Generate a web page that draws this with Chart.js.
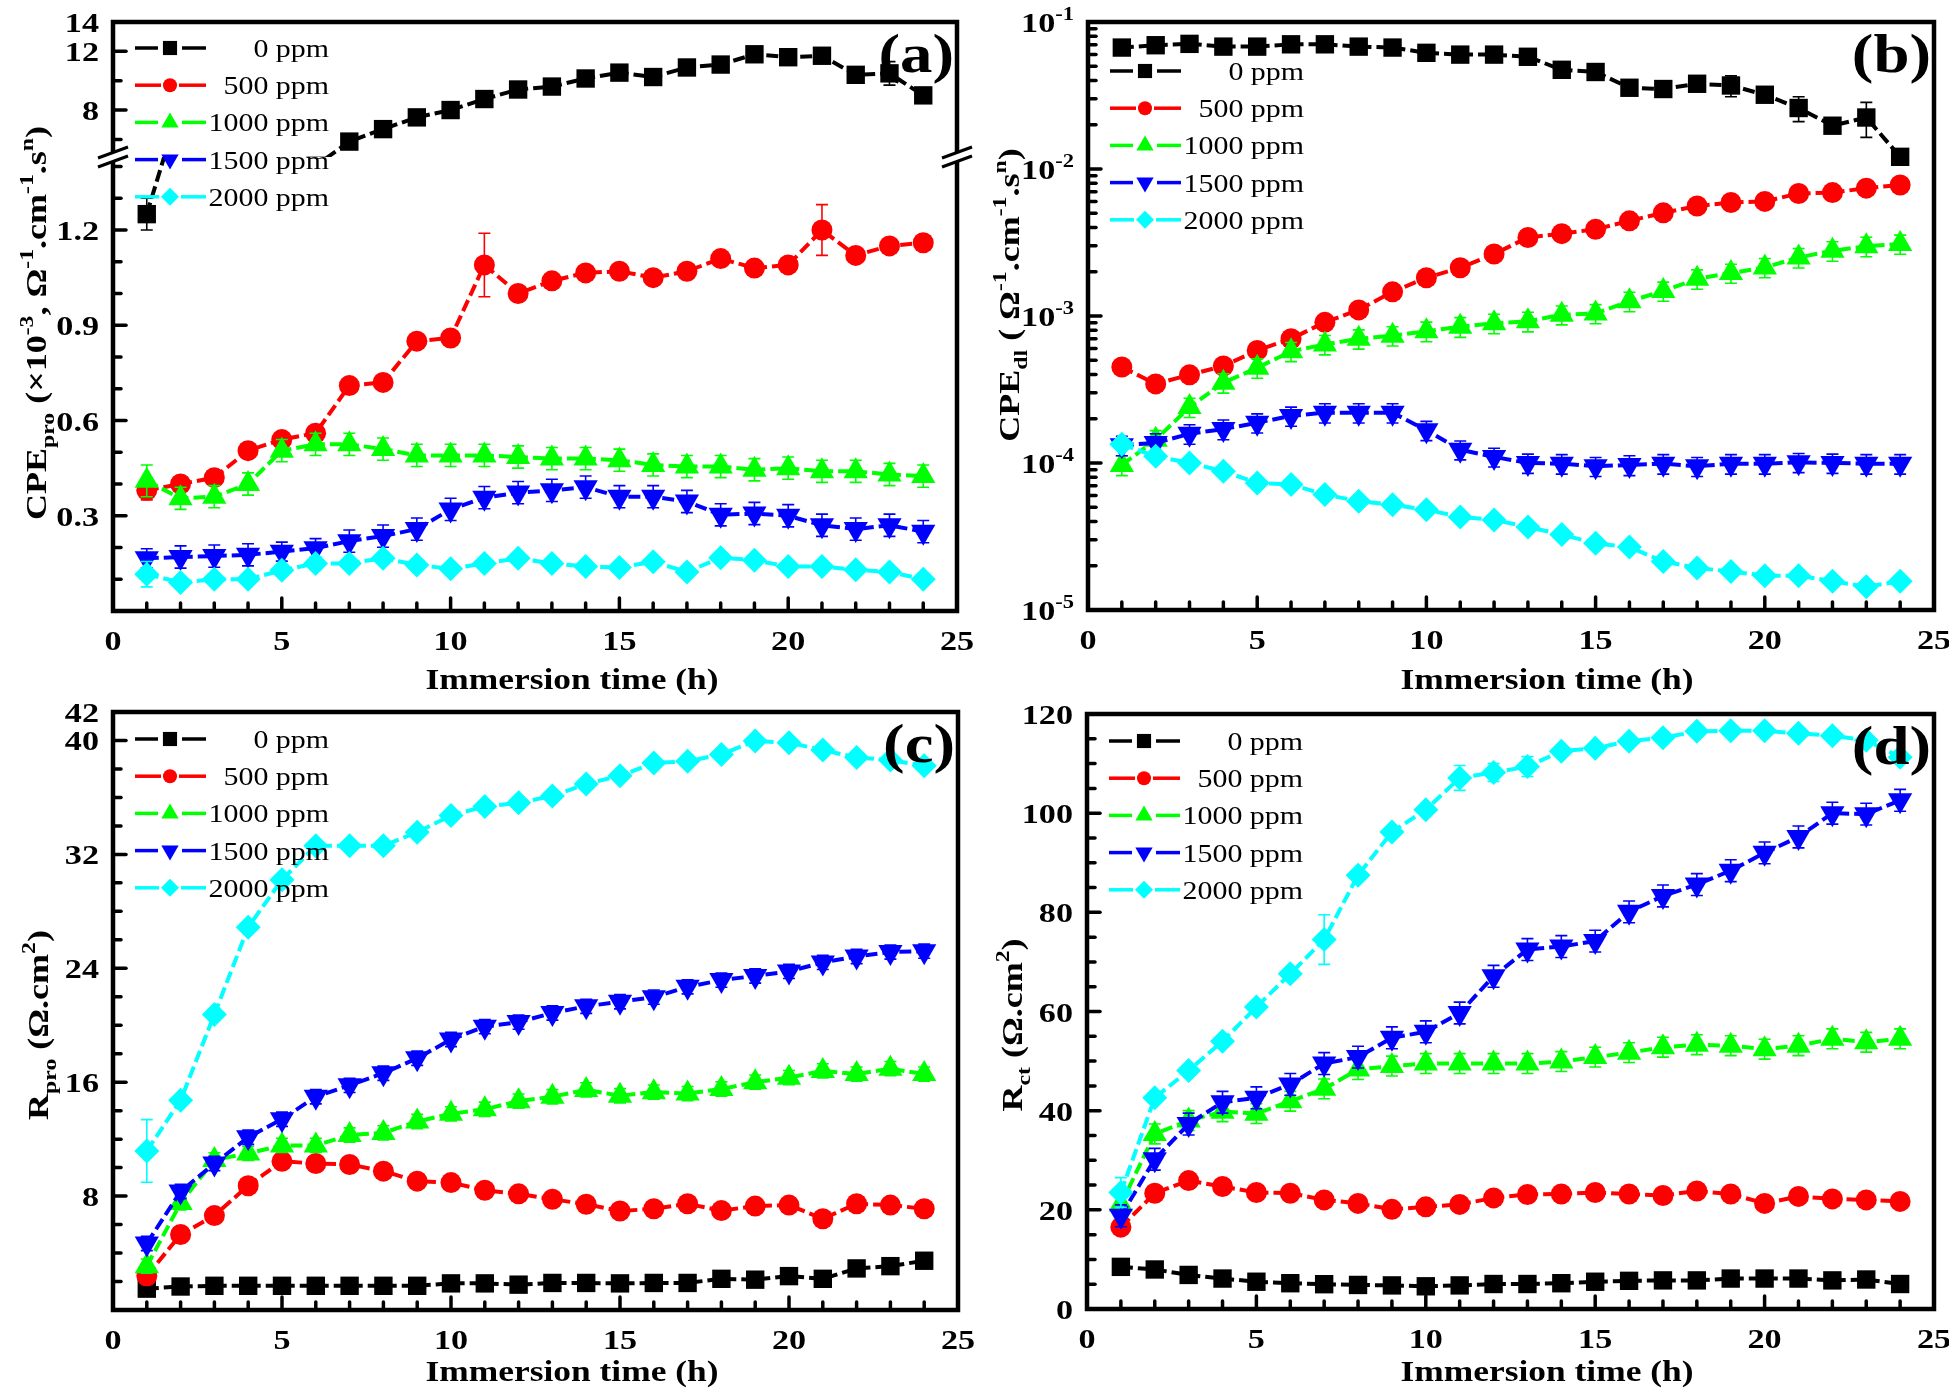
<!DOCTYPE html>
<html>
<head>
<meta charset="utf-8">
<title>CPE and R vs immersion time</title>
<script src="https://cdn.jsdelivr.net/npm/chart.js@4.4.1/dist/chart.umd.min.js"></script>
<style>
  html, body { margin: 0; padding: 0; background: #fff; }
  .pane { position: absolute; }
</style>
</head>
<body>
<div class="pane" style="left:0;top:0;width:975px;height:695px"><canvas id="pa"></canvas></div>
<div class="pane" style="left:975px;top:0;width:974px;height:695px"><canvas id="pb"></canvas></div>
<div class="pane" style="left:0;top:695px;width:975px;height:696px"><canvas id="pc"></canvas></div>
<div class="pane" style="left:975px;top:695px;width:974px;height:696px"><canvas id="pd"></canvas></div>
<script>
// immersion time (h)
const hours = [1,2,3,4,5,6,7,8,9,10,11,12,13,14,15,16,17,18,19,20,21,22,23,24];
const labels = ['0 ppm', '500 ppm', '1000 ppm', '1500 ppm', '2000 ppm'];

// (a) CPE_pro (x10^-3)
const cpePro0    = [1.25,1.6,2.3,3.0,3.6,4.2,5.85,6.7,7.5,8.0,8.75,9.4,9.6,10.15,10.55,10.25,10.9,11.1,11.8,11.6,11.7,10.4,10.5,9.0];
const cpePro500  = [0.38,0.40,0.42,0.505,0.54,0.56,0.71,0.72,0.85,0.86,1.09,1.00,1.04,1.065,1.07,1.05,1.07,1.11,1.08,1.09,1.20,1.12,1.15,1.16];
const cpePro1000 = [0.41,0.355,0.36,0.40,0.505,0.525,0.525,0.51,0.49,0.49,0.49,0.485,0.48,0.48,0.475,0.46,0.455,0.455,0.445,0.45,0.44,0.44,0.43,0.425];
const cpePro1500 = [0.166,0.17,0.173,0.177,0.187,0.198,0.22,0.236,0.258,0.32,0.357,0.373,0.38,0.39,0.36,0.36,0.345,0.303,0.307,0.30,0.27,0.258,0.27,0.25];
const cpePro2000 = [0.116,0.09,0.10,0.10,0.128,0.15,0.15,0.166,0.145,0.133,0.15,0.166,0.15,0.14,0.137,0.155,0.123,0.168,0.16,0.14,0.14,0.13,0.123,0.10];
const errPro0    = [0.05,0,0,0,0,0,0.2,0.2,0.2,0.2,0.2,0.2,0.2,0.2,0.2,0.2,0.2,0.2,0.2,0.2,0.45,0.2,0.8,0.2];
const errPro500  = [0.03,0.02,0.02,0.02,0.02,0.02,0.02,0.02,0.02,0.02,0.10,0.02,0.02,0.02,0.02,0.02,0.02,0.02,0.02,0.02,0.08,0.02,0.02,0.02];
const errPro1000 = [0.05,0.035,0.035,0.035,0.035,0.035,0.035,0.035,0.035,0.035,0.035,0.035,0.035,0.035,0.035,0.035,0.035,0.035,0.035,0.035,0.035,0.035,0.035,0.035];
const errPro1500 = [0.03,0.035,0.035,0.035,0.03,0.03,0.035,0.035,0.035,0.035,0.035,0.035,0.035,0.035,0.035,0.035,0.035,0.035,0.035,0.035,0.035,0.035,0.035,0.035];
const errPro2000 = [0.04,0.01,0.01,0.01,0.01,0.02,0.01,0.01,0.01,0.01,0.01,0.01,0.01,0.01,0.01,0.01,0.01,0.01,0.01,0.01,0.01,0.01,0.01,0.01];

// (b) CPE_dl
const cpeDl0    = [0.067,0.0695,0.071,0.068,0.068,0.0705,0.0705,0.068,0.067,0.0617,0.060,0.060,0.058,0.0473,0.0457,0.0357,0.035,0.038,0.037,0.032,0.026,0.0197,0.0224,0.0121];
const cpeDl500  = [4.5e-4,3.45e-4,3.98e-4,4.57e-4,5.83e-4,7.0e-4,9.06e-4,1.10e-3,1.46e-3,1.82e-3,2.13e-3,2.64e-3,3.42e-3,3.63e-3,3.89e-3,4.44e-3,5.03e-3,5.6e-3,5.92e-3,6.02e-3,6.81e-3,6.91e-3,7.41e-3,7.78e-3];
const cpeDl1000 = [9.7e-5,1.44e-4,2.4e-4,3.52e-4,4.44e-4,5.75e-4,6.4e-4,7.0e-4,7.35e-4,7.88e-4,8.45e-4,8.93e-4,9.2e-4,1.02e-3,1.04e-3,1.26e-3,1.48e-3,1.79e-3,1.96e-3,2.14e-3,2.5e-3,2.78e-3,2.98e-3,3.09e-3];
const cpeDl1500 = [1.32e-4,1.37e-4,1.58e-4,1.70e-4,1.88e-4,2.09e-4,2.2e-4,2.2e-4,2.2e-4,1.67e-4,1.23e-4,1.1e-4,1.0e-4,9.9e-5,9.5e-5,9.7e-5,9.9e-5,9.5e-5,9.9e-5,9.9e-5,1.01e-4,1.0e-4,9.9e-5,9.9e-5];
const cpeDl2000 = [1.34e-4,1.11e-4,1.0e-4,8.8e-5,7.3e-5,7.15e-5,6.1e-5,5.5e-5,5.2e-5,4.8e-5,4.3e-5,4.1e-5,3.67e-5,3.26e-5,2.84e-5,2.68e-5,2.14e-5,1.93e-5,1.83e-5,1.71e-5,1.71e-5,1.57e-5,1.44e-5,1.57e-5];
const errDl0    = [0.003,0.003,0.003,0.003,0.003,0.003,0.003,0.003,0.003,0.003,0.003,0.003,0.003,0.003,0.003,0.003,0.003,0.004,0.006,0.003,0.005,0.002,0.006,0.001];
const errDl1000 = [1.5e-5,2.2e-5,3.6e-5,5.3e-5,6.7e-5,8.6e-5,9.6e-5,1.05e-4,1.1e-4,1.2e-4,1.3e-4,1.35e-4,1.4e-4,1.5e-4,1.55e-4,1.9e-4,2.2e-4,2.7e-4,2.9e-4,3.2e-4,3.8e-4,4.2e-4,4.5e-4,4.6e-4];
const errDl1500 = [2e-5,2.1e-5,2.4e-5,2.6e-5,2.8e-5,3.1e-5,3.3e-5,3.3e-5,3.3e-5,2.5e-5,1.8e-5,1.6e-5,1.5e-5,1.5e-5,1.4e-5,1.5e-5,1.5e-5,1.4e-5,1.5e-5,1.5e-5,1.5e-5,1.5e-5,1.5e-5,1.5e-5];

// (c) R_pro
const rPro0    = [1.5,1.65,1.7,1.7,1.7,1.7,1.7,1.7,1.7,1.87,1.87,1.78,1.9,1.9,1.87,1.9,1.9,2.19,2.13,2.38,2.19,2.92,3.08,3.46];
const rPro500  = [2.4,5.3,6.63,8.73,10.44,10.29,10.22,9.75,9.05,8.95,8.41,8.16,7.78,7.43,6.95,7.11,7.46,6.98,7.3,7.37,6.41,7.46,7.37,7.11];
const rPro1000 = [3.08,7.52,10.54,11.0,11.56,11.56,12.29,12.44,13.24,13.78,14.1,14.67,14.98,15.46,15.05,15.3,15.2,15.52,16.0,16.32,16.79,16.57,16.95,16.57];
const rPro1500 = [4.67,8.32,10.29,12.13,13.4,14.98,15.78,16.63,17.68,19.0,19.9,20.22,20.86,21.33,21.65,21.97,22.7,23.17,23.46,23.78,24.41,24.83,25.14,25.2];
const rPro2000 = [11.17,14.73,20.76,26.89,30.22,32.6,32.6,32.6,33.56,34.73,35.37,35.62,36.1,36.95,37.52,38.41,38.54,39.02,39.97,39.84,39.33,38.8,38.63,38.22];
const errRPro0    = [0.5,0.1,0.1,0.1,0.1,0.1,0.1,0.1,0.1,0.1,0.1,0.1,0.1,0.1,0.1,0.1,0.1,0.1,0.1,0.1,0.1,0.1,0.1,0.1];
const errRPro500  = [0.6,0.25,0.25,0.25,0.25,0.25,0.25,0.25,0.25,0.25,0.25,0.25,0.25,0.25,0.25,0.25,0.25,0.25,0.25,0.25,0.5,0.25,0.25,0.25];
const errRPro1000 = [0.5,0.5,0.5,0.5,0.5,0.5,0.5,0.5,0.5,0.5,0.5,0.5,0.5,0.5,0.5,0.5,0.5,0.5,0.5,0.5,0.5,0.5,0.5,0.5];
const errRPro1500 = [0.5,0.5,0.5,0.5,0.5,0.5,0.5,0.5,0.5,0.5,0.5,0.5,0.5,0.5,0.5,0.5,0.5,0.5,0.5,0.5,0.5,0.5,0.5,0.5];
const errRPro2000 = [2.2,0.3,0.3,0.3,0.3,0.3,0.3,0.3,0.3,0.3,0.3,0.3,0.3,0.3,0.3,0.3,0.3,0.3,0.3,0.3,0.3,0.3,0.3,0.3];

// (d) R_ct
const rCt0    = [8.5,7.97,6.87,6.14,5.5,5.2,5.0,4.85,4.76,4.58,4.76,5.04,5.04,5.2,5.5,5.68,5.77,5.77,6.14,6.14,6.14,5.77,5.95,5.04];
const rCt500  = [16.5,23.35,25.9,24.7,23.5,23.35,22.0,21.3,20.1,20.6,21.1,22.4,23.1,23.2,23.5,23.2,22.9,23.8,23.2,21.3,22.7,22.2,22.0,21.7];
const rCt1000 = [21.1,35.3,38.0,39.8,39.4,41.9,44.4,48.3,49.0,49.5,49.5,49.5,49.5,49.9,50.8,51.7,52.8,53.3,53.1,52.4,53.1,54.5,53.8,54.5];
const rCt1500 = [18.8,30.2,37.3,41.7,42.6,45.3,49.5,50.8,54.7,55.9,59.7,67.1,72.5,73.1,74.2,80.1,83.3,85.6,88.4,92.0,95.2,100.0,99.8,102.6];
const rCt2000 = [23.5,42.6,48.1,54.0,60.9,67.6,74.5,87.5,96.2,100.7,107.1,108.2,109.4,112.5,113.1,114.5,115.2,116.5,116.6,116.6,116.1,115.6,114.7,111.3];
const errRCt1000 = [2,2,2,2,2,2,2,2,2,2,2,2,2,2,2,2,2,2,2,2,2,2,2,2];
const errRCt1500 = [2.2,2.2,2.2,2.2,2.2,2.2,2.2,2.2,2.2,2.2,2.2,2.2,2.2,2.2,2.2,2.2,2.2,2.2,2.2,2.2,2.2,2.2,2.2,2.2];
const errRCt2000 = [3,0.8,0.8,0.8,0.8,0.8,5,0.8,0.8,0.8,2.5,1.8,2,0.8,0.8,0.8,0.8,0.8,0.8,0.8,0.8,0.8,0.8,0.8];

// tick labels
const ticksX = [0,5,10,15,20,25];
const ticksProTop = [8,12,14];
const ticksProBot = [0.3,0.6,0.9,1.2];
const ticksDl = [1e-5,1e-4,1e-3,1e-2,1e-1];
const ticksRPro = [8,16,24,32,40,42];
const ticksRCt = [0,20,40,60,80,100,120];

// ---------- styling ----------
const FAM = '"Liberation Serif","Times New Roman",serif';
const looks = [
  {color: '#000000', style: 'rect', rot: 0, r: 13, lr: 10},
  {color: '#FF0000', style: 'circle', rot: 0, r: 10.5, lr: 7},
  {color: '#00FF00', style: 'triangle', rot: 0, r: 14, lr: 10},
  {color: '#0000FF', style: 'triangle', rot: 180, r: 14, lr: 10},
  {color: '#00FFFF', style: 'rectRot', rot: 0, r: 12.5, lr: 9}
];

function steps(a, b, st) {
  const r = [];
  for (let v = a; v <= b + 1e-9; v += st) r.push(+v.toFixed(6));
  return r;
}
const notIn = (arr) => (v) => !arr.some(m => Math.abs(m - v) < 1e-9);
const logMinor = [];
for (let e = -5; e <= -2; e++) for (let k = 2; k <= 9; k++) logMinor.push(k * Math.pow(10, e));

const panels = {
  pa: {
    pad: {top: 22, right: 18}, yw: 113, xh: 84, tag: '(a)', legendTop: 26,
    yTitle: [['CPE',0],['pro',1],[' (\u00d710',0],['-3',2],[', \u03a9',0],['-1',2],['.cm',0],['-1',2],['.s',0],['n',2],[')',0]],
    yTitlePos: [46, 323], xTitlePos: [572, 678],
    axes: [
      {id: 'y', min: 0, max: 1.43, weight: 454, labels: ticksProBot, fmt: v => [[v.toFixed(1),0]],
       minor: steps(0.1, 1.4, 0.1).filter(notIn(ticksProBot))},
      {id: 'yTop', min: 4.8, max: 14, weight: 135, labels: ticksProTop, fmt: v => [[String(v),0]], minor: [6,10]}
    ],
    brk: true,
    series: [cpePro0, cpePro500, cpePro1000, cpePro1500, cpePro2000],
    errs: [errPro0, errPro500, errPro1000, errPro1500, errPro2000]
  },
  pb: {
    pad: {top: 22, right: 15}, yw: 113, xh: 85, tag: '(b)', legendTop: 49,
    yTitle: [['CPE',0],['dl',1],[' ( \u03a9',0],['-1',2],['.cm',0],['-1',2],['.s',0],['n',2],[')',0]],
    yTitlePos: [44, 295], xTitlePos: [572, 678],
    axes: [
      {id: 'y', log: true, min: 1e-5, max: 1e-1, labels: ticksDl,
       fmt: v => [['10',0],[String(Math.round(Math.log10(v))),2]], minor: logMinor}
    ],
    series: [cpeDl0, cpeDl500, cpeDl1000, cpeDl1500, cpeDl2000],
    errs: [errDl0, null, errDl1000, errDl1500, null]
  },
  pc: {
    pad: {top: 17, right: 17}, yw: 113, xh: 81, tag: '(c)', legendTop: 27,
    yTitle: [['R',0],['pro',1],[' (\u03a9.cm',0],['2',2],[')',0]],
    yTitlePos: [48, 330], xTitlePos: [572, 675],
    axes: [
      {id: 'y', min: 0, max: 42, labels: ticksRPro, fmt: v => [[String(v),0]],
       minor: steps(2, 40, 2).filter(notIn(ticksRPro))}
    ],
    series: [rPro0, rPro500, rPro1000, rPro1500, rPro2000],
    errs: [errRPro0, errRPro500, errRPro1000, errRPro1500, errRPro2000]
  },
  pd: {
    pad: {top: 19, right: 15}, yw: 112, xh: 82, tag: '(d)', legendTop: 27,
    yTitle: [['R',0],['ct',1],[' (\u03a9.cm',0],['2',2],[')',0]],
    yTitlePos: [47, 330], xTitlePos: [572, 675],
    axes: [
      {id: 'y', min: 0, max: 120, labels: ticksRCt, fmt: v => [[String(v),0]],
       minor: steps(5, 115, 5).filter(notIn(ticksRCt))}
    ],
    series: [rCt0, rCt500, rCt1000, rCt1500, rCt2000],
    errs: [null, null, errRCt1000, errRCt1500, errRCt2000]
  }
};

// ---------- text helpers ----------
// the lettering in the figure is wider than plain Times, so each run is stretched along its own direction (sx)
function rich(ctx, parts, x, y, size, o) {
  const bold = o.bold ? 'bold ' : '';
  const segs = parts.map(([t, k]) => {
    const s = k ? size * 0.66 : size;
    ctx.font = bold + s + 'px ' + FAM;
    return {t, s, dy: k === 1 ? size * 0.25 : k === 2 ? -size * 0.42 : 0, w: ctx.measureText(t).width};
  });
  const w = segs.reduce((a, s) => a + s.w, 0);
  ctx.save();
  ctx.translate(x, y);
  if (o.rot) ctx.rotate(-Math.PI / 2);
  ctx.scale(o.sx || 1, 1);
  let cx = o.align === 'center' ? -w / 2 : o.align === 'right' ? -w : 0;
  ctx.fillStyle = '#000';
  ctx.textAlign = 'left';
  ctx.textBaseline = 'alphabetic';
  for (const s of segs) {
    ctx.font = bold + s.s + 'px ' + FAM;
    ctx.fillText(s.t, cx, s.dy);
    cx += s.w;
  }
  ctx.restore();
}

function marker(ctx, lk, x, y, r) {
  ctx.beginPath();
  if (lk.style === 'circle') ctx.arc(x, y, r, 0, Math.PI * 2);
  else if (lk.style === 'rect') { const s = r * Math.SQRT1_2; ctx.rect(x - s, y - s, 2 * s, 2 * s); }
  else if (lk.style === 'rectRot') { ctx.moveTo(x, y - r); ctx.lineTo(x + r, y); ctx.lineTo(x, y + r); ctx.lineTo(x - r, y); ctx.closePath(); }
  else {
    const d = lk.rot ? -1 : 1;
    ctx.moveTo(x, y - d * r); ctx.lineTo(x + r * 0.866, y + d * r * 0.5); ctx.lineTo(x - r * 0.866, y + d * r * 0.5); ctx.closePath();
  }
  ctx.fillStyle = lk.color;
  ctx.fill();
}

function axisBreak(ctx, x, y) {
  ctx.save();
  ctx.fillStyle = '#fff';
  ctx.beginPath();
  ctx.moveTo(x - 15, y + 1); ctx.lineTo(x + 15, y - 10); ctx.lineTo(x + 15, y - 1); ctx.lineTo(x - 15, y + 10);
  ctx.closePath(); ctx.fill();
  ctx.strokeStyle = '#000'; ctx.lineWidth = 3;
  ctx.beginPath();
  ctx.moveTo(x - 15, y + 1); ctx.lineTo(x + 15, y - 10);
  ctx.moveTo(x - 15, y + 10); ctx.lineTo(x + 15, y - 1);
  ctx.stroke();
  ctx.restore();
}

// ---------- plugin: error bars, frame, ticks, texts, legend ----------
const deco = {
  id: 'deco',
  beforeDatasetDraw(chart, args) {
    const ds = chart.data.datasets[args.index];
    if (!ds.errors) return;
    const ctx = chart.ctx, xs = chart.scales.x, ys = chart.scales[ds.yAxisID];
    ctx.save();
    ctx.beginPath();
    ctx.rect(xs.left, ys.top, xs.right - xs.left, ys.bottom - ys.top);
    ctx.clip();
    ctx.strokeStyle = ds.borderColor;
    ctx.lineWidth = 1.6;
    ds.data.forEach((p, i) => {
      const e = ds.errors[i];
      if (!e) return;
      const x = xs.getPixelForValue(p.x);
      const y1 = ys.getPixelForValue(p.y + e), y2 = ys.getPixelForValue(p.y - e);
      ctx.beginPath();
      ctx.moveTo(x, y1); ctx.lineTo(x, y2);
      ctx.moveTo(x - 6, y1); ctx.lineTo(x + 6, y1);
      ctx.moveTo(x - 6, y2); ctx.lineTo(x + 6, y2);
      ctx.stroke();
    });
    ctx.restore();
  },
  afterDraw(chart) {
    const P = panels[chart.canvas.id];
    const ctx = chart.ctx, xs = chart.scales.x;
    const {left: L, right: R, top: T, bottom: B} = chart.chartArea;
    ctx.save();
    ctx.strokeStyle = '#000';
    ctx.lineCap = 'round';
    ctx.lineWidth = 3.5;
    const tick = (x1, y1, x2, y2) => { ctx.beginPath(); ctx.moveTo(x1, y1); ctx.lineTo(x2, y2); ctx.stroke(); };
    ticksX.forEach(v => { const x = xs.getPixelForValue(v); tick(x, B, x, B - 13); });
    steps(1, 24, 1).filter(notIn(ticksX)).forEach(v => { const x = xs.getPixelForValue(v); tick(x, B, x, B - 8); });
    P.axes.forEach(ax => {
      const ys = chart.scales[ax.id];
      ax.labels.forEach(v => { const y = ys.getPixelForValue(v); tick(L, y, L + 13, y); });
      ax.minor.forEach(v => { const y = ys.getPixelForValue(v); tick(L, y, L + 8, y); });
    });
    ctx.lineCap = 'butt';
    ctx.lineWidth = 4.5;
    ctx.strokeRect(L, T, R - L, B - T);
    if (P.brk) { const y = chart.scales.yTop.bottom; axisBreak(ctx, L, y); axisBreak(ctx, R, y); }

    ticksX.forEach(v => rich(ctx, [[String(v),0]], xs.getPixelForValue(v), B + 39, 28, {align: 'center', bold: true, sx: 1.22}));
    P.axes.forEach(ax => {
      const ys = chart.scales[ax.id];
      ax.labels.forEach(v => rich(ctx, ax.fmt(v), L - 14, ys.getPixelForValue(v) + 10, 28, {align: 'right', bold: true, sx: 1.22}));
    });
    rich(ctx, [['Immersion time (h)',0]], P.xTitlePos[0], P.xTitlePos[1] + 11, 30, {align: 'center', bold: true, sx: 1.18});
    rich(ctx, P.yTitle, P.yTitlePos[0], P.yTitlePos[1], 30, {align: 'center', bold: true, rot: true, sx: 1.2});
    rich(ctx, [[P.tag,0]], R - 3, T + 50, 54, {align: 'right', bold: true, sx: 1.2});

    labels.forEach((lab, i) => {
      const lk = looks[i];
      const y = T + P.legendTop + i * 37.2;
      const mx = L + 57;
      ctx.strokeStyle = lk.color;
      ctx.lineWidth = 3.5;
      tick(L + 22, y, mx - lk.lr - 2, y);
      tick(mx + lk.lr + 2, y, L + 93, y);
      marker(ctx, lk, mx, y, lk.lr);
      rich(ctx, [[lab,0]], L + 216, y + 9, 26, {align: 'right', sx: 1.15});
    });
    ctx.restore();
  }
};

// ---------- charts ----------
function lineSet(vals, errs, lk, yAxisID, order) {
  return {
    data: hours.map((h, i) => ({x: h, y: vals[i]})),
    errors: errs, yAxisID, order,
    borderColor: lk.color, backgroundColor: lk.color,
    borderWidth: 4, borderDash: [12, 5], tension: 0, fill: false,
    pointStyle: lk.style, pointRotation: lk.rot, pointRadius: lk.r,
    pointBackgroundColor: lk.color, pointBorderColor: lk.color, pointBorderWidth: 0
  };
}

function build(id) {
  const P = panels[id];
  const hide = {grid: {display: false}, border: {display: false}, ticks: {display: false}};
  const scales = {
    x: Object.assign({type: 'linear', min: 0, max: 25, afterFit: s => { s.height = P.xh; }}, hide)
  };
  // left boxes are stacked in reverse order, so the lower part of the broken axis is declared first
  P.axes.forEach(ax => {
    scales[ax.id] = Object.assign({
      type: ax.log ? 'logarithmic' : 'linear', position: 'left', min: ax.min, max: ax.max,
      afterFit: s => { s.width = P.yw; }
    }, hide, ax.weight ? {stack: 'brk', stackWeight: ax.weight} : {});
  });
  const datasets = [];
  P.series.forEach((vals, i) => {
    if (P.brk && i === 0) {
      const top = lineSet(vals, P.errs[i], looks[i], 'yTop', 10);
      top.clip = 0;
      const bot = lineSet(vals, P.errs[i], looks[i], 'y', 10);
      bot.clip = 0;
      datasets.push(top, bot);
    } else {
      datasets.push(lineSet(vals, P.errs[i], looks[i], 'y', 4 - i));
    }
  });
  new Chart(document.getElementById(id), {
    type: 'line',
    data: {datasets},
    options: {
      animation: false, responsive: true, maintainAspectRatio: false, devicePixelRatio: 1,
      layout: {padding: {left: 0, top: P.pad.top, right: P.pad.right, bottom: 0}},
      scales,
      plugins: {legend: {display: false}, tooltip: {enabled: false}}
    },
    plugins: [deco]
  });
}
['pa', 'pb', 'pc', 'pd'].forEach(build);
</script>
</body>
</html>
